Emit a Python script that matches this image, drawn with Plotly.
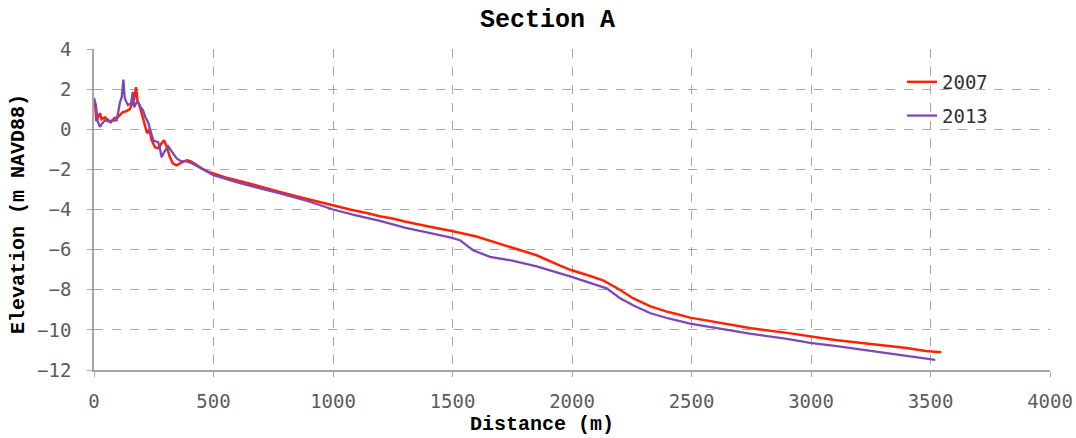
import plotly.graph_objects as go

# Survey profiles along Section A: distance (m) and elevation (m NAVD88)
dist_2007 = [0, 5, 10, 18, 25, 32, 45, 60, 70, 85, 100, 112, 121, 135, 150, 160, 168, 176, 182,
             190, 198, 205, 215, 222, 232, 240, 255, 270, 280, 293, 305, 318, 330, 345, 360, 375,
             390, 405, 425, 450, 475, 500, 550, 600, 650, 700, 778, 850, 900, 950, 1000, 1071,
             1150, 1200, 1250, 1300, 1400, 1497, 1600, 1741, 1852, 1950, 1999, 2060, 2130, 2200,
             2255, 2326, 2400, 2494, 2600, 2750, 2900, 2996, 3100, 3250, 3400, 3480, 3545]
elev_2007 = [1.4, 1.2, 0.4, 0.6, 0.8, 0.5, 0.6, 0.45, 0.35, 0.55, 0.6, 0.75, 0.85, 0.9, 1.0, 1.3,
             1.5, 2.1, 1.4, 1.2, 0.9, 0.55, 0.1, -0.2, 0.0, -0.5, -0.9, -0.95, -0.75, -0.55, -0.9,
             -1.4, -1.7, -1.8, -1.7, -1.6, -1.55, -1.6, -1.75, -1.95, -2.1, -2.2, -2.4, -2.55,
             -2.7, -2.85, -3.12, -3.35, -3.5, -3.65, -3.8, -4.0, -4.2, -4.35, -4.45, -4.6, -4.85,
             -5.07, -5.35, -5.87, -6.28, -6.8, -7.03, -7.25, -7.53, -8.0, -8.42, -8.82, -9.1,
             -9.39, -9.6, -9.92, -10.15, -10.32, -10.5, -10.7, -10.9, -11.05, -11.12]

dist_2013 = [0, 8, 15, 25, 35, 46, 60, 80, 95, 102, 109, 116, 123, 128, 132, 142, 155, 162, 168,
             176, 184, 195, 205, 215, 226, 237, 248, 258, 268, 275, 283, 295, 310, 325, 346, 365,
             388, 410, 450, 500, 600, 700, 778, 900, 1000, 1100, 1197, 1300, 1400, 1490, 1531,
             1560, 1586, 1657, 1750, 1852, 1999, 2145, 2201, 2260, 2326, 2400, 2494, 2600, 2750,
             2900, 2996, 3100, 3250, 3400, 3520]
elev_2013 = [1.55, 1.2, 0.4, 0.12, 0.3, 0.45, 0.4, 0.45, 0.45, 0.9, 1.36, 1.6, 2.48, 1.6, 1.45,
             1.2, 1.3, 1.86, 1.1, 1.3, 1.36, 1.1, 0.95, 0.6, 0.36, -0.1, -0.55, -0.6, -0.63, -0.9,
             -1.4, -1.1, -0.85, -1.1, -1.45, -1.6, -1.6, -1.7, -1.95, -2.29, -2.65, -2.95, -3.2,
             -3.6, -4.0, -4.3, -4.57, -4.9, -5.15, -5.39, -5.53, -5.8, -6.03, -6.36, -6.55, -6.83,
             -7.36, -7.93, -8.42, -8.8, -9.16, -9.42, -9.69, -9.9, -10.2, -10.45, -10.65, -10.8,
             -11.05, -11.3, -11.5]

x_ticks = [0, 500, 1000, 1500, 2000, 2500, 3000, 3500, 4000]
y_ticks = [4, 2, 0, -2, -4, -6, -8, -10, -12]

mono_bold = "Liberation Mono"
mono_light = "DejaVu Sans Mono"
grid_col = "#a6a6a6"
label_col = "#5c5c5c"

# Page geometry (pixels)
W, H = 1076, 438
PL, PR, PT, PB = 94, 26, 49, 68
PW, PH = W - PL - PR, H - PT - PB


def px_to_paper(x, y):
    return (x - PL) / PW, (H - PB - y) / PH


fig = go.Figure()
fig.add_trace(go.Scatter(x=dist_2007, y=elev_2007, mode="lines", name="2007",
                         legendgroup="a", line=dict(color="#ff2200", width=2.5)))
fig.add_trace(go.Scatter(x=dist_2013, y=elev_2013, mode="lines", name="2013",
                         legendgroup="b", line=dict(color="#7e47b8", width=2.3)))

titles = [
    ("<b>Section A</b>", 547, 20, 25, 0),
    ("<b>Distance (m)</b>", 542, 425, 20, 0),
    ("<b>Elevation (m NAVD88)</b>", 19, 214, 20, -90),
]
annotations = []
for text, x, y, size, angle in titles:
    ax, ay = px_to_paper(x, y)
    annotations.append(dict(text=text, x=ax, y=ay, xref="paper", yref="paper",
                            xanchor="center", yanchor="middle", showarrow=False,
                            textangle=angle,
                            font=dict(family=mono_bold, size=size, color="black")))

lx, ly = px_to_paper(902, 63)
fig.update_layout(
    width=W, height=H,
    margin=dict(l=PL, r=PR, t=PT, b=PB, autoexpand=False),
    paper_bgcolor="white", plot_bgcolor="white",
    showlegend=True,
    legend=dict(x=lx, y=ly, xanchor="left", yanchor="top",
                font=dict(family=mono_light, size=19, color="#333333"),
                tracegroupgap=6, bgcolor="rgba(0,0,0,0)"),
    annotations=annotations,
)

axis_common = dict(showgrid=True, gridcolor=grid_col, griddash="dash", gridwidth=1,
                   showline=True, linecolor=grid_col, linewidth=1.5,
                   ticks="outside", ticklen=5, tickcolor=grid_col,
                   tickfont=dict(family=mono_light, size=19, color=label_col),
                   zeroline=False, automargin=False)
fig.update_xaxes(range=[0, 4000], tickvals=x_ticks, ticktext=[str(v) for v in x_ticks],
                 ticklabelstandoff=8, **axis_common)
fig.update_yaxes(range=[-12, 4], tickvals=y_ticks,
                 ticktext=[str(v).replace("-", "\u2212") for v in y_ticks],
                 ticklabelstandoff=12, **axis_common)

fig.write_html("out.html")
